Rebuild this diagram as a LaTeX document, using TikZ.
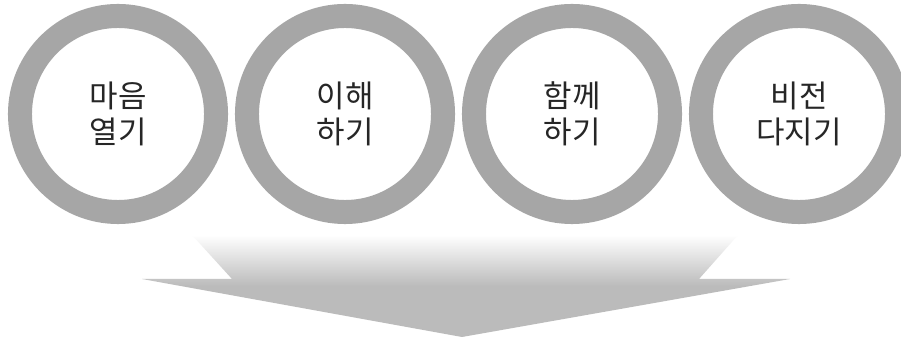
\documentclass[tikz,border=0pt]{standalone}
\usepackage{fontspec}
\newfontfamily\kfont{Noto Sans CJK KR}
\usetikzlibrary{positioning}
\definecolor{ringgray}{RGB}{166,166,166}
\definecolor{arrowgray}{RGB}{187,187,187}
\definecolor{txtgray}{RGB}{38,38,38}
\pgfdeclareverticalshading{arrowfade}{100bp}{color(0bp)=(arrowgray); color(50bp)=(arrowgray); color(75bp)=(white); color(100bp)=(white)}
\tikzset{ring/.style={circle, draw=ringgray, line width=0.6cm, minimum size=4.9cm, inner sep=0pt, align=center, text=txtgray, font=\kfont\fontsize{22}{25.6}\selectfont}}

\begin{document}
\begin{tikzpicture}[x=0.025cm, y=-0.025cm]
                \clip (0,0) rectangle (901,339);
                \fill[white] (0,0) rectangle (901,339);
                % vier Ringe
                \node[ring] (open) at (118,114) {마음\\열기};
                \node[ring] (understand) at (345,114) {이해\\하기};
                \node[ring] (together) at (572,114) {함께\\하기};
                \node[ring] (vision) at (799,114) {비전\\다지기};
                % breiter Pfeil nach unten
                \shade[shading=arrowfade] (192,235) -- (738,235) -- (699,279) -- (790,279) -- (462,337) -- (142,279) -- (232,279) -- cycle;
            \end{tikzpicture}
\end{document}
